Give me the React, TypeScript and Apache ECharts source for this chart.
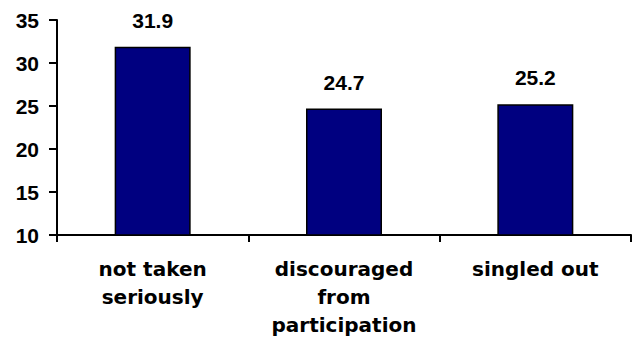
import React, { useEffect, useRef } from "react";
import * as echarts from "echarts";

const categories: string[] = [
  "not taken\nseriously",
  "discouraged\nfrom\nparticipation",
  "singled out",
];
const values: number[] = [31.9, 24.7, 25.2];
const yMin = 10;
const yMax = 35;
const yStep = 5;

const NUM_FONT = "'Liberation Sans', Arial, sans-serif";
const CAT_FONT = "'DejaVu Sans', 'Liberation Sans', Arial, sans-serif";

export default function App() {
  const ref = useRef<HTMLDivElement>(null);

  useEffect(() => {
    if (!ref.current) return;
    const chart = echarts.init(ref.current, null, { renderer: "svg" });
    chart.setOption({
      animation: false,
      backgroundColor: "#ffffff",
      grid: { left: 57, right: 1, top: 20, bottom: 102, containLabel: false },
      xAxis: {
        type: "category",
        data: categories,
        axisLine: { show: true, lineStyle: { color: "#000", width: 2 } },
        axisTick: { show: true, length: 7, lineStyle: { color: "#000", width: 2 } },
        axisLabel: {
          color: "#000",
          fontFamily: CAT_FONT,
          fontWeight: 700,
          fontSize: 20,
          lineHeight: 28,
          margin: 20,
          interval: 0,
          align: "center",
        },
        splitLine: { show: false },
      },
      yAxis: {
        type: "value",
        min: yMin,
        max: yMax,
        interval: yStep,
        axisLine: { show: true, lineStyle: { color: "#000", width: 2 } },
        axisTick: { show: true, length: 8, lineStyle: { color: "#000", width: 2 } },
        axisLabel: {
          color: "#000",
          fontFamily: NUM_FONT,
          fontWeight: 700,
          fontSize: 21,
          margin: 18,
        },
        splitLine: { show: false },
      },
      series: [
        {
          type: "bar",
          data: values,
          barWidth: 76,
          itemStyle: { color: "#000080", borderColor: "#000", borderWidth: 1.5 },
          label: {
            show: true,
            position: "top",
            distance: 16,
            color: "#000",
            fontFamily: NUM_FONT,
            fontWeight: 700,
            fontSize: 21,
            formatter: (p: any) => Number(p.value).toFixed(1),
          },
        },
      ],
    });
    return () => chart.dispose();
  }, []);

  return (
    <div
      ref={ref}
      style={{ position: "fixed", left: 0, top: 0, width: 632, height: 339, background: "#fff" }}
    />
  );
}
